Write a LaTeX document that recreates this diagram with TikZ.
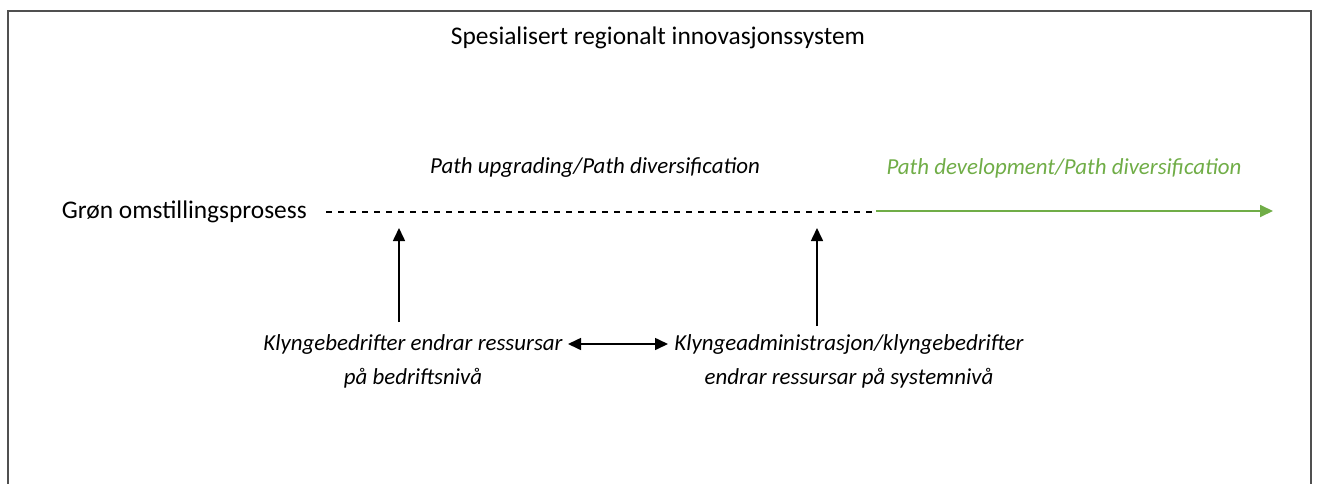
\documentclass[tikz,border=0pt]{standalone}
\usepackage{fontspec}
\setmainfont{Carlito}
\usetikzlibrary{arrows.meta}
\definecolor{offgreen}{RGB}{112,173,71}
\definecolor{framegray}{RGB}{80,80,80}
\tikzset{
  lbl/.style={inner sep=0pt, font=\fontsize{25.4}{33}\selectfont},
  ilbl/.style={lbl, font=\fontsize{22.9}{34}\selectfont\itshape, align=center},
  tip/.style={-{Triangle[length=13pt,width=12pt]}},
  dtip/.style={{Triangle[length=13pt,width=12pt]}-{Triangle[length=13pt,width=12pt]}},
}
\begin{document}
\begin{tikzpicture}[x=1pt,y=-1pt]
\useasboundingbox (0,0) rectangle (1318,483);
\draw[framegray, line width=2.2pt] (8,495) -- (8,11) -- (1311,11) -- (1311,495);
\node[lbl] (title) at (658,38) {Spesialisert regionalt innovasjonssystem};
\node[ilbl] (pu) at (595,168) {Path upgrading/Path diversification};
\node[ilbl, text=offgreen] (pd) at (1064,168) {Path development/Path diversification};
\node[lbl, anchor=east] (gron) at (307,212) {Grøn omstillingsprosess};
\coordinate (d0) at (326,212);
\coordinate (d1) at (872,212);
\coordinate (g0) at (876,211);
\coordinate (g1) at (1273,211);
\draw[line width=1.3pt, dash pattern=on 6pt off 6pt] (d0) -- (d1);
\draw[offgreen, line width=1.8pt, tip] (g0) -- (g1);
\node[ilbl] (left) at (413,361) {Klyngebedrifter endrar ressursar\\på bedriftsnivå};
\node[ilbl] (right) at (849,361) {Klyngeadministrasjon/klyngebedrifter\\endrar ressursar på systemnivå};
\coordinate (la0) at (399,322);
\coordinate (la1) at (399,228);
\coordinate (ra0) at (817,326);
\coordinate (ra1) at (817,228);
\draw[line width=1.6pt, tip] (la0) -- (la1);
\draw[line width=1.6pt, tip] (ra0) -- (ra1);
\coordinate (da0) at (568,344);
\coordinate (da1) at (668,344);
\draw[line width=1.6pt, dtip] (da0) -- (da1);
\end{tikzpicture}
\end{document}
